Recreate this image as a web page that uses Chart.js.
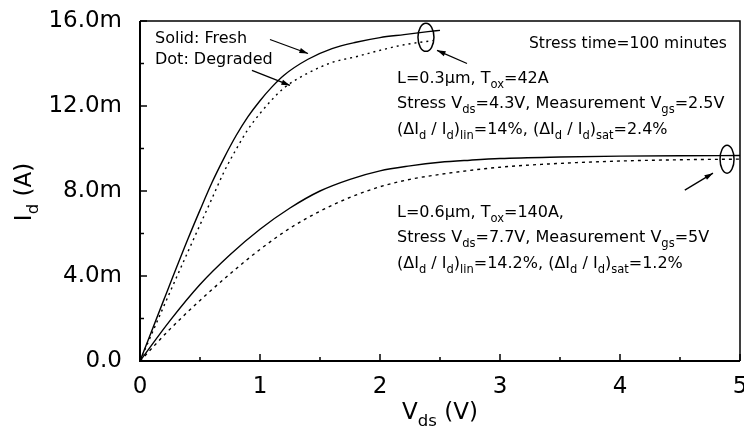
<!DOCTYPE html>
<html>
<head>
<meta charset="utf-8">
<script src="https://cdn.jsdelivr.net/npm/chart.js@4.4.1/dist/chart.umd.min.js"></script>
<style>
  html, body { margin: 0; padding: 0; background: #fff; }
  #wrap { width: 744px; height: 427px; position: relative; }
</style>
</head>
<body>
<div id="wrap"><canvas id="idvd"></canvas></div>
<script>
// L=0.3um, Tox=42A  (Vds in V, Id in mA)
const shortVds = [0, 0.2, 0.4, 0.5, 0.6, 0.7, 0.8, 0.9, 1.0, 1.1, 1.2, 1.4, 1.6, 1.8, 2.0, 2.2, 2.4, 2.5];
const shortFresh = [0, 2.9, 5.75, 7.1, 8.4, 9.55, 10.6, 11.5, 12.25, 12.9, 13.45, 14.2, 14.7, 15.0, 15.22, 15.36, 15.5, 15.56];
const shortDegVds = [0, 0.2, 0.4, 0.6, 0.7, 0.8, 0.9, 1.0, 1.1, 1.2, 1.4, 1.6, 1.8, 2.0, 2.2, 2.44];
const shortDegraded = [0, 2.6, 5.15, 7.65, 8.9, 9.95, 10.9, 11.65, 12.3, 12.85, 13.55, 14.05, 14.32, 14.62, 14.88, 15.08];

// L=0.6um, Tox=140A
const longVds = [0, 0.25, 0.5, 0.75, 1.0, 1.25, 1.5, 1.75, 2.0, 2.25, 2.5, 2.75, 3.0, 3.5, 4.0, 4.5, 5.0];
const longFresh = [0, 1.9, 3.6, 5.0, 6.2, 7.2, 8.0, 8.55, 8.95, 9.18, 9.35, 9.45, 9.53, 9.6, 9.64, 9.66, 9.67];
const longDegraded = [0, 1.5, 2.85, 4.1, 5.25, 6.25, 7.05, 7.7, 8.2, 8.55, 8.78, 8.97, 9.12, 9.3, 9.41, 9.47, 9.5];

const FONT = '"DejaVu Sans", sans-serif';

const pts = (xs, ys) => xs.map((v, i) => ({ x: v, y: ys[i] }));

const curve = (data, dash) => ({
    data: data,
    borderColor: '#000',
    borderWidth: 1.4,
    borderDash: dash,
    pointRadius: 0,
    fill: false,
    cubicInterpolationMode: 'monotone'
});

// text with subscripts: plain strings, or [str] for subscript
const richWidth = (ctx, parts, size) => {
    let w = 0;
    parts.forEach(p => {
        const sub = Array.isArray(p);
        ctx.font = (sub ? size * 0.72 : size) + 'px ' + FONT;
        w += ctx.measureText(sub ? p[0] : p).width;
    });
    return w;
};

const drawRich = (ctx, x, y, parts, size) => {
    parts.forEach(p => {
        const sub = Array.isArray(p);
        const s = sub ? p[0] : p;
        ctx.font = (sub ? size * 0.72 : size) + 'px ' + FONT;
        ctx.fillText(s, x, sub ? y + size * 0.3 : y);
        x += ctx.measureText(s).width;
    });
};

const arrow = (ctx, x1, y1, x2, y2) => {
    const ang = Math.atan2(y2 - y1, x2 - x1);
    ctx.beginPath();
    ctx.moveTo(x1, y1);
    ctx.lineTo(x2, y2);
    ctx.stroke();
    ctx.beginPath();
    ctx.moveTo(x2, y2);
    ctx.lineTo(x2 - 9 * Math.cos(ang - 0.3), y2 - 9 * Math.sin(ang - 0.3));
    ctx.lineTo(x2 - 9 * Math.cos(ang + 0.3), y2 - 9 * Math.sin(ang + 0.3));
    ctx.closePath();
    ctx.fill();
};

const frame = {
    id: 'frame',
    afterDraw(chart) {
        const { ctx, chartArea: a, scales: { x, y } } = chart;
        ctx.save();
        ctx.strokeStyle = '#000';
        ctx.fillStyle = '#000';

        // box
        ctx.lineWidth = 1.5;
        ctx.beginPath();
        ctx.moveTo(a.left, a.top);
        ctx.lineTo(a.right, a.top);
        ctx.lineTo(a.right, a.bottom);
        ctx.stroke();
        ctx.lineWidth = 2;
        ctx.beginPath();
        ctx.moveTo(a.left, a.top);
        ctx.lineTo(a.left, a.bottom);
        ctx.lineTo(a.right, a.bottom);
        ctx.stroke();

        // inward ticks
        ctx.lineWidth = 1.5;
        x.ticks.forEach(t => {
            const px = x.getPixelForValue(t.value);
            const len = Number.isInteger(t.value) ? 7 : 4;
            ctx.beginPath();
            ctx.moveTo(px, a.bottom);
            ctx.lineTo(px, a.bottom - len);
            ctx.stroke();
        });
        y.ticks.forEach(t => {
            const py = y.getPixelForValue(t.value);
            const len = t.value % 4 === 0 ? 7 : 4;
            ctx.beginPath();
            ctx.moveTo(a.left, py);
            ctx.lineTo(a.left + len, py);
            ctx.stroke();
        });

        // axis titles
        ctx.textBaseline = 'alphabetic';
        const xt = ['V', ['ds'], ' (V)'];
        drawRich(ctx, (a.left + a.right) / 2 - richWidth(ctx, xt, 23) / 2, 419, xt, 23);
        const yt = ['I', ['d'], ' (A)'];
        ctx.save();
        ctx.translate(31, (a.top + a.bottom) / 2 + 1);
        ctx.rotate(-Math.PI / 2);
        drawRich(ctx, -richWidth(ctx, yt, 23) / 2, 0, yt, 23);
        ctx.restore();

        // annotations
        const fs = 16;
        drawRich(ctx, 155, 43, ['Solid: Fresh'], fs);
        drawRich(ctx, 155, 64, ['Dot: Degraded'], fs);
        drawRich(ctx, 529, 48, ['Stress time=100 minutes'], 15.5);
        drawRich(ctx, 397, 83, ['L=0.3\u00b5m, T', ['ox'], '=42A'], fs);
        drawRich(ctx, 397, 108, ['Stress V', ['ds'], '=4.3V, Measurement V', ['gs'], '=2.5V'], fs);
        drawRich(ctx, 397, 134, ['(\u0394I', ['d'], ' / I', ['d'], ')', ['lin'], '=14%, (\u0394I', ['d'], ' / I', ['d'], ')', ['sat'], '=2.4%'], fs);
        drawRich(ctx, 397, 217, ['L=0.6\u00b5m, T', ['ox'], '=140A,'], fs);
        drawRich(ctx, 397, 242, ['Stress V', ['ds'], '=7.7V, Measurement V', ['gs'], '=5V'], fs);
        drawRich(ctx, 397, 268, ['(\u0394I', ['d'], ' / I', ['d'], ')', ['lin'], '=14.2%, (\u0394I', ['d'], ' / I', ['d'], ')', ['sat'], '=1.2%'], fs);

        // arrows and ellipses, placed in data units
        const P = (v, i) => [x.getPixelForValue(v), y.getPixelForValue(i)];
        ctx.lineWidth = 1.3;
        arrow(ctx, ...P(1.083, 15.13), ...P(1.4, 14.47));
        arrow(ctx, ...P(0.933, 13.68), ...P(1.25, 12.97));
        arrow(ctx, ...P(2.725, 14.0), ...P(2.475, 14.62));
        arrow(ctx, ...P(4.54, 8.04), ...P(4.775, 8.84));
        ctx.lineWidth = 1.5;
        let c = P(2.383, 15.23);
        ctx.beginPath();
        ctx.ellipse(c[0], c[1], 8, 14, 0, 0, Math.PI * 2);
        ctx.stroke();
        c = P(4.892, 9.5);
        ctx.beginPath();
        ctx.ellipse(c[0], c[1], 7, 14, 0, 0, Math.PI * 2);
        ctx.stroke();

        ctx.restore();
    }
};

new Chart(document.getElementById('idvd'), {
    type: 'line',
    data: {
        datasets: [
            curve(pts(shortVds, shortFresh), []),
            curve(pts(shortDegVds, shortDegraded), [2, 4]),
            curve(pts(longVds, longFresh), []),
            curve(pts(longVds, longDegraded), [3, 4])
        ]
    },
    options: {
        responsive: true,
        maintainAspectRatio: false,
        animation: false,
        layout: { padding: { top: 21, right: 4, left: 0, bottom: 0 } },
        plugins: { legend: { display: false }, tooltip: { enabled: false } },
        scales: {
            x: {
                type: 'linear',
                min: 0,
                max: 5,
                grid: { display: false },
                border: { display: false },
                ticks: {
                    stepSize: 0.5,
                    padding: 4,
                    color: '#000',
                    font: { family: FONT, size: 23 },
                    maxRotation: 0,
                    autoSkip: false,
                    callback: (v) => Number.isInteger(v) ? String(v) : ''
                },
                afterFit: (s) => { s.height = 66; s.paddingRight = 0; s.paddingLeft = 0; }
            },
            y: {
                min: 0,
                max: 16,
                grid: { display: false },
                border: { display: false },
                ticks: {
                    stepSize: 2,
                    padding: 10,
                    color: '#000',
                    font: { family: FONT, size: 23 },
                    autoSkip: false,
                    callback: (v) => v % 4 !== 0 ? '' : (v === 0 ? '0.0' : v.toFixed(1) + 'm')
                },
                afterFit: (s) => { s.width = 140; s.paddingTop = 0; s.paddingBottom = 0; }
            }
        }
    },
    plugins: [frame]
});
</script>
</body>
</html>
